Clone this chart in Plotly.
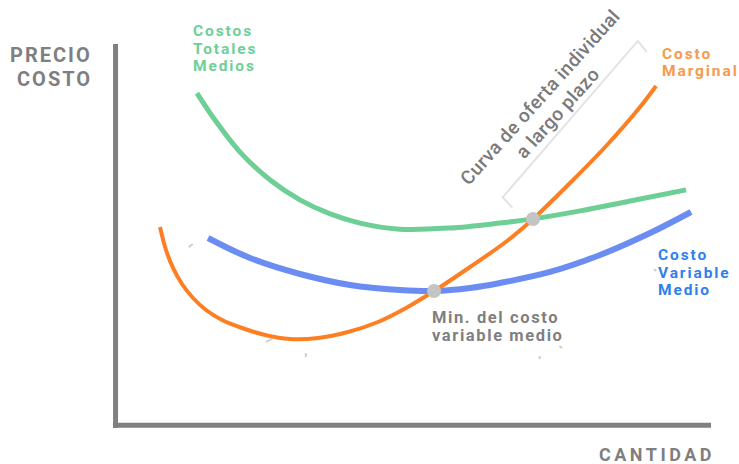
import plotly.graph_objects as go

# --- data (quantity, cost) ---
ctm_q = [13.6, 16.6, 20.8, 25.9, 30.9, 36.0, 41.0, 47.7, 56.1, 64.5, 70.1, 78.0, 86.4, 95.8]
ctm_c = [87.1, 80.1, 71.7, 64.3, 59.1, 55.4, 53.0, 51.4, 51.7, 53.0, 54.1, 56.2, 58.8, 61.7]

cvm_q = [15.46, 22.52, 30.92, 39.33, 47.73, 53.45, 59.50, 64.54, 72.94, 81.34, 89.75, 96.64]
cvm_c = [49.08, 43.83, 39.63, 36.75, 35.43, 35.17, 35.96, 37.27, 40.16, 44.62, 50.39, 55.91]

cmg_q = [7.39, 8.40, 9.58, 11.09, 12.94, 15.13, 17.82, 21.18, 25.04, 29.24, 33.95, 38.99,
         44.03, 48.74, 53.45, 59.50, 65.71, 70.08, 76.81, 82.52, 88.07, 90.76]
cmg_c = [51.97, 45.93, 41.21, 37.01, 33.33, 30.18, 27.56, 25.46, 23.62, 22.57, 22.83, 24.41,
         27.03, 30.71, 35.17, 41.47, 48.29, 54.07, 64.30, 73.49, 83.46, 88.98]

dot_q = [53.45, 70.08]
dot_c = [35.17, 54.07]

bracket_q = [66.6, 65.0, 87.7, 89.2]
bracket_c = [57.0, 59.8, 100.8, 97.9]

stray_q = [12.2, 12.9, None, 25.2, 26.2, None, 31.9, 31.9, None, 71.2, 71.2, None, 74.5, 75.0, None, 90.4, 90.8]
stray_c = [46.7, 47.5, None, 21.8, 22.6, None, 18.9, 17.8, None, 18.1, 17.3, None, 20.7, 20.2, None, 40.9, 40.4]

GREEN = "#6dcf96"
BLUE = "#6b8df2"
ORANGE = "#fd7f23"
GRAY = "#808080"
FONT = "Roboto"

fig = go.Figure()

fig.add_trace(go.Scatter(x=stray_q, y=stray_c, mode="lines",
                         line=dict(color="#cfcfcf", width=2), hoverinfo="skip"))
fig.add_trace(go.Scatter(x=bracket_q, y=bracket_c, mode="lines",
                         line=dict(color="#e3e3e3", width=2), hoverinfo="skip"))
fig.add_trace(go.Scatter(x=ctm_q, y=ctm_c, mode="lines", name="Costos Totales Medios",
                         line=dict(color=GREEN, width=5, shape="spline", smoothing=1.0)))
fig.add_trace(go.Scatter(x=cvm_q, y=cvm_c, mode="lines", name="Costo Variable Medio",
                         line=dict(color=BLUE, width=6, shape="spline", smoothing=1.0)))
fig.add_trace(go.Scatter(x=cmg_q, y=cmg_c, mode="lines", name="Costo Marginal",
                         line=dict(color=ORANGE, width=4, shape="spline", smoothing=1.0)))
fig.add_trace(go.Scatter(x=dot_q, y=dot_c, mode="markers",
                         marker=dict(color="#c4c4c4", size=14)))

# axes drawn as thick gray lines
fig.add_shape(type="line", x0=-0.08, x1=-0.08, y0=-0.8, y1=100, line=dict(color=GRAY, width=5))
fig.add_shape(type="line", x0=-0.5, x1=100, y0=-0.1, y1=-0.1, line=dict(color=GRAY, width=5))

letter_spacing = []

def ann(text, x, y, color, size, xanchor="left", angle=0, weight=700, ls=0.0):
    fig.add_annotation(x=x, y=y, text=text, showarrow=False, xanchor=xanchor, yanchor="middle",
                       align=xanchor, textangle=angle, borderpad=0, borderwidth=0,
                       font=dict(family=FONT, size=size, color=color, weight=weight))
    letter_spacing.append(ls)

TXT_GRAY = "#7f7f7f"
ann("PRECIO", -4.03, 97.0, TXT_GRAY, 20, xanchor="right", ls=2.0)
ann("COSTO", -4.03, 90.7, TXT_GRAY, 20, xanchor="right", ls=2.0)
ann("CANTIDAD", 100.6, -7.74, TXT_GRAY, 18, xanchor="right", ls=3.5)

for t, yy in zip(["Costos", "Totales", "Medios"], [103.3, 98.8, 94.2]):
    ann(t, 12.94, yy, "#6fcf97", 15.5, ls=1.9)
for t, yy in zip(["Costo", "Marginal"], [97.5, 93.0]):
    ann(t, 91.76, yy, "#f79a4d", 15.5, ls=1.9)
for t, yy in zip(["Costo", "Variable", "Medio"], [44.6, 40.0, 35.4]):
    ann(t, 91.09, yy, "#2f80ed", 15.5, ls=1.9)
ann("Min. del costo", 53.11, 28.1, TXT_GRAY, 16.5, ls=1.6)
ann("variable medio", 53.11, 23.4, TXT_GRAY, 16.5, ls=1.6)

ann("Curva de oferta individual", 71.26, 85.83, "#7a7a7a", 19, xanchor="center", angle=-48, weight=500, ls=0.4)
ann("a largo plazo", 74.12, 81.89, "#7a7a7a", 19, xanchor="center", angle=-48, weight=500, ls=0.4)

fig.update_layout(
    width=739, height=464,
    margin=dict(l=0, r=0, t=0, b=0),
    paper_bgcolor="white", plot_bgcolor="white",
    showlegend=False,
    xaxis=dict(range=[-19.5, 104.7], visible=False, fixedrange=True),
    yaxis=dict(range=[-10.24, 111.55], visible=False, fixedrange=True),
)

post = """
document.body.style.margin = '0';
var LS = %s;
document.querySelectorAll('g.annotation').forEach(function(g){
  var i = +g.getAttribute('data-index');
  var t = g.querySelector('text.annotation-text') || g.querySelector('text');
  if (t && LS[i]) { t.style.letterSpacing = LS[i] + 'px'; }
});
""" % str(letter_spacing)

fig.write_html("out.html", config={"responsive": False, "displayModeBar": False}, post_script=post)
